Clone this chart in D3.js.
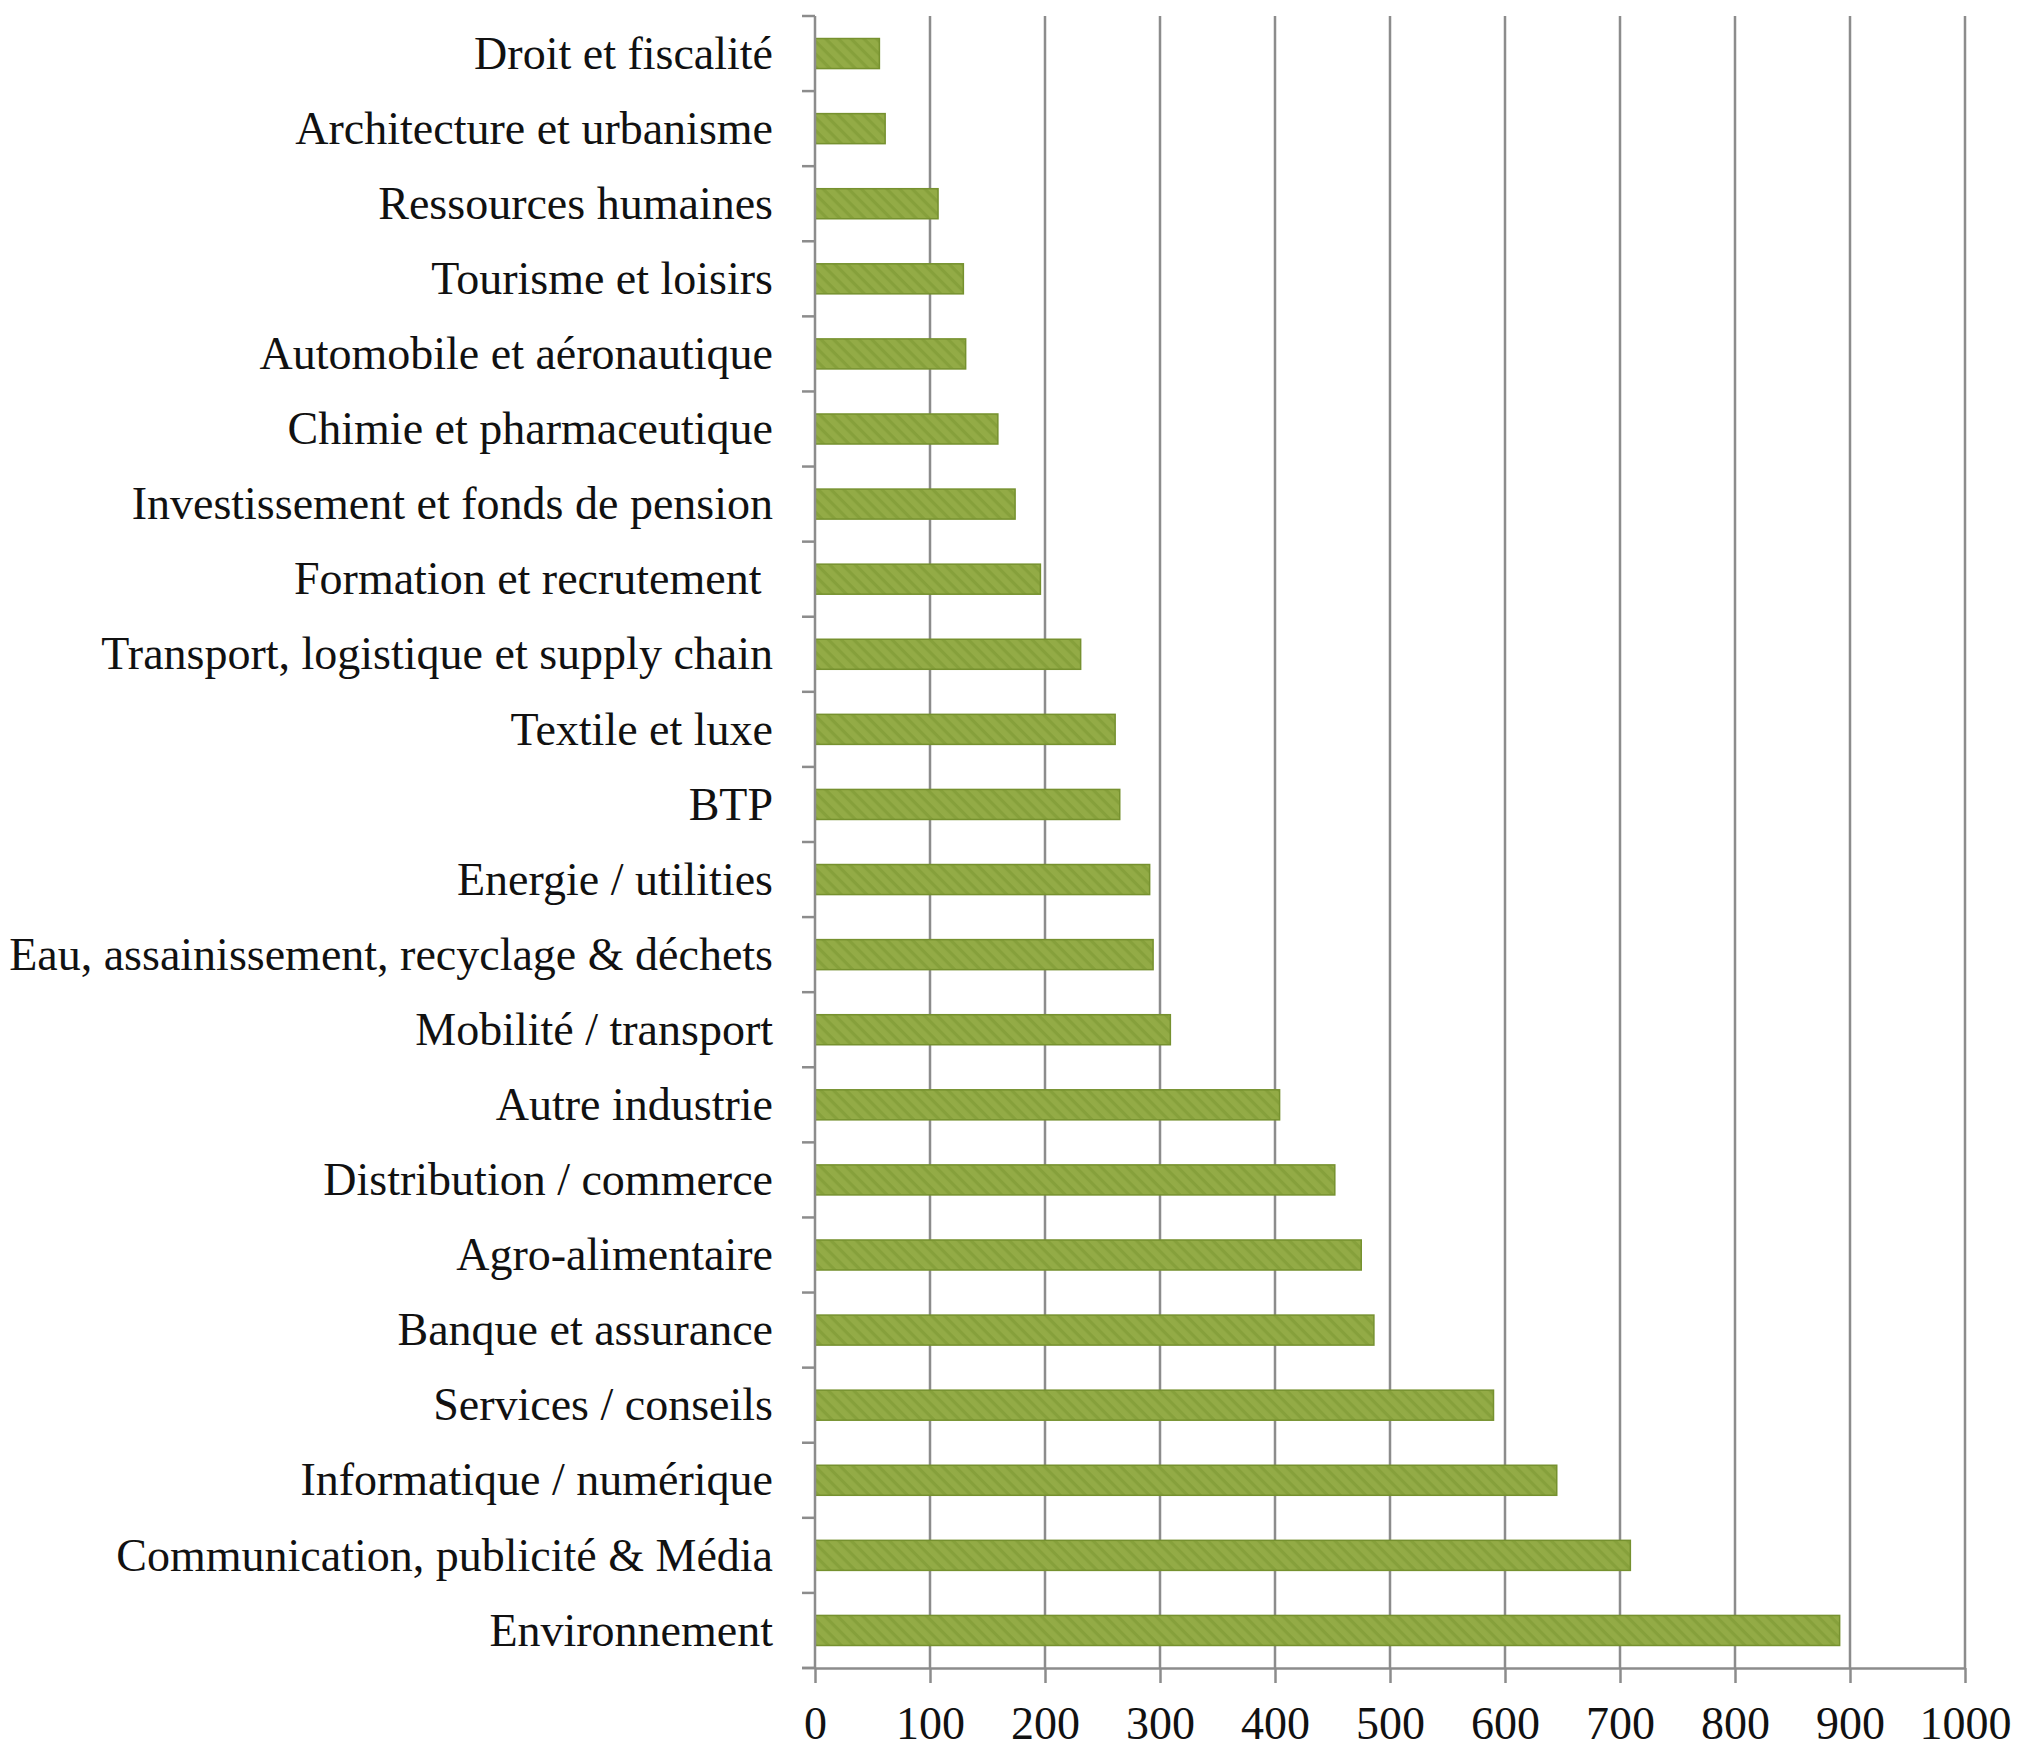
<!DOCTYPE html>
<html>
<head>
<meta charset="utf-8">
<script src="https://cdn.jsdelivr.net/npm/d3@7/dist/d3.min.js"></script>
<style>
  html, body { margin: 0; padding: 0; background: #ffffff; }
  svg { display: block; }
  text { font-family: "Liberation Serif", "DejaVu Serif", serif; fill: #111; }
</style>
</head>
<body>
<svg id="chart" width="2020" height="1750"></svg>
<script>
const categories = [
  "Droit et fiscalité",
  "Architecture et urbanisme",
  "Ressources humaines",
  "Tourisme et loisirs",
  "Automobile et aéronautique",
  "Chimie et pharmaceutique",
  "Investissement et fonds de pension",
  "Formation et recrutement ",
  "Transport, logistique et supply chain",
  "Textile et luxe",
  "BTP",
  "Energie / utilities",
  "Eau, assainissement, recyclage & déchets",
  "Mobilité / transport",
  "Autre industrie",
  "Distribution / commerce",
  "Agro-alimentaire",
  "Banque et assurance",
  "Services / conseils",
  "Informatique / numérique",
  "Communication, publicité & Média",
  "Environnement"
];
const values = [56, 61, 107, 129, 131, 159, 174, 196, 231, 261, 265, 291, 294, 309, 404, 452, 475, 486, 590, 645, 709, 891];
const xTicks = [0, 100, 200, 300, 400, 500, 600, 700, 800, 900, 1000];

(function () {
const svg = d3.select("#chart");
const pLeft = 815, pRight = 1965, pTop = 16, pBottom = 1668;

const x = d3.scaleLinear().domain([0, 1000]).range([pLeft, pRight]);
const y = d3.scaleBand().domain(categories).range([pTop, pBottom]).paddingInner(0.6).paddingOuter(0.3);

// pattern
const defs = svg.append("defs");
const pat = defs.append("pattern")
  .attr("id", "hatch").attr("patternUnits", "userSpaceOnUse")
  .attr("width", 9).attr("height", 9)
  .attr("patternTransform", "rotate(45)");
pat.append("rect").attr("width", 9).attr("height", 9).attr("fill", "#93ab46");
pat.append("rect").attr("x", 0).attr("y", 0).attr("width", 9).attr("height", 3.2).attr("fill", "#86a03b");

const gridColor = "#8c8c8c";

// gridlines
svg.append("g").selectAll("line").data(xTicks.slice(1)).join("line")
  .attr("x1", d => x(d)).attr("x2", d => x(d))
  .attr("y1", pTop).attr("y2", pBottom)
  .attr("stroke", gridColor).attr("stroke-width", 2.5);

// bars
svg.append("g").selectAll("rect").data(categories).join("rect")
  .attr("x", x(0))
  .attr("y", d => y(d))
  .attr("width", (d, i) => x(values[i]) - x(0))
  .attr("height", y.bandwidth())
  .attr("fill", "url(#hatch)")
  .attr("stroke", "#76912f").attr("stroke-width", 1.5);

// bottom axis
const xAxis = d3.axisBottom(x).tickValues(xTicks).tickSize(15).tickSizeOuter(0).tickFormat(d3.format("d"));
const gx = svg.append("g").attr("transform", `translate(0,${pBottom})`).call(xAxis);
gx.select(".domain").attr("stroke", gridColor).attr("stroke-width", 2.5);
gx.selectAll(".tick line").attr("stroke", gridColor).attr("stroke-width", 2.5);
gx.selectAll(".tick text")
  .attr("y", 71).attr("dy", 0)
  .attr("fill", "#111")
  .style("font-family", '"Liberation Serif", "DejaVu Serif", serif')
  .style("font-size", "46px");
svg.append("line").attr("x1", pLeft - 13).attr("x2", pLeft).attr("y1", pBottom).attr("y2", pBottom)
  .attr("stroke", gridColor).attr("stroke-width", 2.5);

// left axis line
svg.append("line").attr("x1", pLeft).attr("x2", pLeft).attr("y1", pTop).attr("y2", pBottom)
  .attr("stroke", gridColor).attr("stroke-width", 2.5);

// left ticks at band boundaries
const step = y.step();
const bounds = d3.range(categories.length + 1).map(i => pTop + i * step);
svg.append("g").selectAll("line").data(bounds).join("line")
  .attr("x1", pLeft - 13).attr("x2", pLeft)
  .attr("y1", d => d).attr("y2", d => d)
  .attr("stroke", gridColor).attr("stroke-width", 2.5);

// category labels
svg.append("g").selectAll("text").data(categories).join("text")
  .attr("x", 773)
  .attr("y", d => y(d) + y.bandwidth() / 2)
  .attr("dy", "0.33em")
  .attr("text-anchor", "end")
  .style("font-size", "46px")
  .style("white-space", "pre")
  .attr("xml:space", "preserve")
  .text(d => d);
})();
</script>
</body>
</html>
